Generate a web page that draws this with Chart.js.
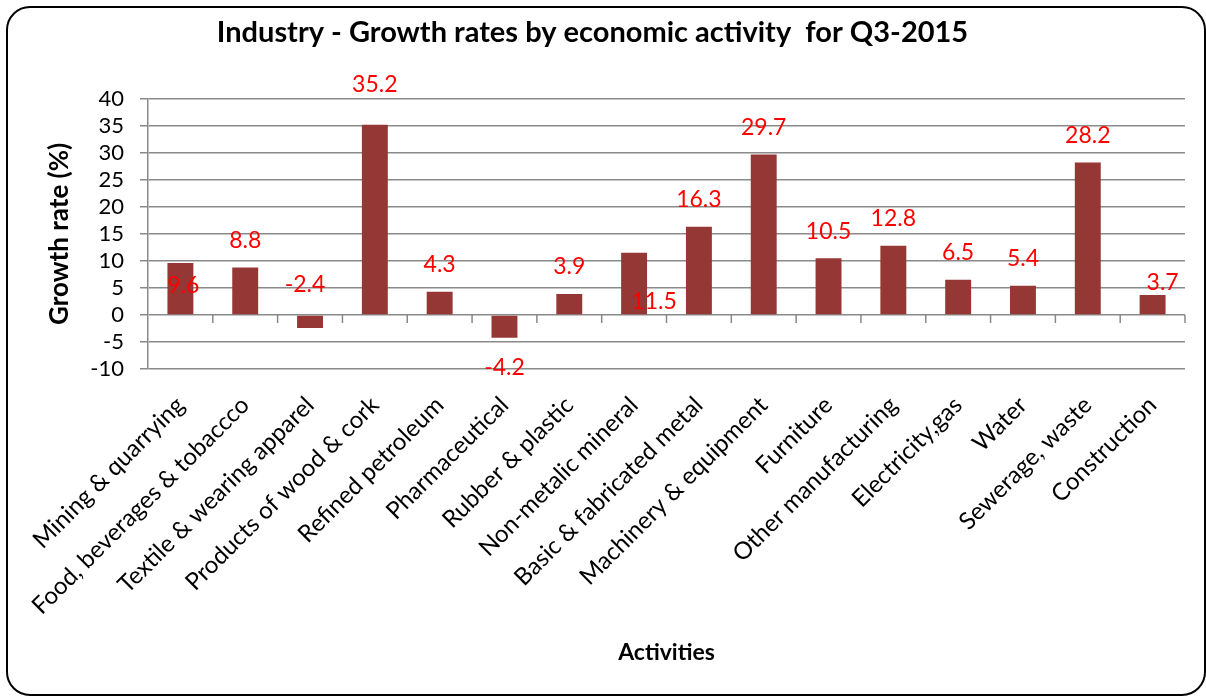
<!DOCTYPE html>
<html>
<head>
<meta charset="utf-8">
<title>Industry - Growth rates by economic activity for Q3-2015</title>
<script src="https://cdn.jsdelivr.net/npm/chart.js@4.4.0/dist/chart.umd.min.js"></script>
<style>
  html, body { margin: 0; padding: 0; background: #fff; overflow: hidden; }
  #wrap { position: relative; width: 1206px; height: 696px; }
  #frame {
    position: absolute; left: 6px; top: 6px; width: 1200px; height: 690px;
    border: 2px solid #000; border-radius: 24px; box-sizing: border-box;
    pointer-events: none;
  }
</style>
</head>
<body>
<div id="wrap">
  <canvas id="barchart" width="1206" height="696"></canvas>
  <div id="frame"></div>
</div>
<script>
// data
const activities = [
  'Mining & quarrying', 'Food, beverages & tobaccco', 'Textile & wearing apparel',
  'Products of wood & cork', 'Refined petroleum', 'Pharmaceutical', 'Rubber & plastic',
  'Non-metalic mineral', 'Basic & fabricated metal', 'Machinery & equipment',
  'Furniture', 'Other manufacturing', 'Electricity,gas', 'Water', 'Sewerage, waste',
  'Construction'
];
const growthRates = [9.6, 8.8, -2.4, 35.2, 4.3, -4.2, 3.9, 11.5, 16.3, 29.7, 10.5, 12.8, 6.5, 5.4, 28.2, 3.7];
const yMin = -10;
const yMax = 40;
const yStep = 5;

const FONT = 'Lato, "Open Sans", sans-serif';

// little tick marks hanging under the zero line
const zeroTicks = {
  id: 'zeroTicks',
  afterDatasetsDraw(chart) {
    const x = chart.scales.x, y = chart.scales.y;
    const c = chart.ctx;
    const y0 = y.getPixelForValue(0);
    const step = x.width / activities.length;
    c.save();
    c.strokeStyle = '#888';
    c.lineWidth = 1.5;
    for (let i = 1; i <= activities.length; i++) {
      const px = x.left + i * step;
      c.beginPath();
      c.moveTo(px, y0);
      c.lineTo(px, y0 + 8);
      c.stroke();
    }
    c.restore();
  }
};

// red value labels, with the hand-moved ones from the original
const valueLabels = {
  id: 'valueLabels',
  afterDatasetsDraw(chart, args, opts) {
    const c = chart.ctx;
    const meta = chart.getDatasetMeta(0);
    c.save();
    c.fillStyle = opts.color;
    c.font = opts.size + 'px ' + FONT;
    c.textAlign = 'center';
    c.textBaseline = 'middle';
    meta.data.forEach((bar, i) => {
      const v = growthRates[i];
      let px = bar.x;
      let py = v >= 0 ? bar.y - 27 : bar.y + 30;
      const s = opts.shift[i];
      if (s) { px += s[0]; py += s[1]; }
      c.fillText(v.toFixed(1), px, py);
    });
    c.restore();
  }
};

const ctx = document.getElementById('barchart');

new Chart(ctx, {
  type: 'bar',
  data: {
    labels: activities,
    datasets: [{
      label: 'Growth rate (%)',
      data: growthRates,
      backgroundColor: '#953735',
      borderWidth: 0,
      barPercentage: 0.4,
      categoryPercentage: 1.0
    }]
  },
  options: {
    responsive: false,
    animation: false,
    layout: { padding: { left: 0, right: 21, top: 0, bottom: 0 } },
    plugins: {
      legend: { display: false },
      tooltip: { enabled: false },
      title: {
        display: true,
        text: 'Industry - Growth rates by economic activity  for Q3-2015',
        color: '#000',
        font: { family: FONT, size: 29, weight: 'bold', lineHeight: 1.2 },
        padding: { top: 15, bottom: 49 }
      },
      valueLabels: {
        color: '#ff0000',
        size: 23,
        shift: { 0: [3, 49], 2: [-5, -73], 3: [0, -13], 7: [20, 76], 15: [10, 15] }
      }
    },
    scales: {
      x: {
        grid: { display: false, drawTicks: false },
        border: { display: false },
        ticks: {
          autoSkip: false,
          minRotation: 45,
          maxRotation: 45,
          padding: 22,
          color: '#000',
          font: { family: FONT, size: 24 }
        },
        title: {
          display: true,
          text: 'Activities',
          color: '#000',
          font: { family: FONT, size: 23, weight: 'bold', lineHeight: 1.2 },
          padding: { top: 0, bottom: 30 }
        },
        afterFit(scale) { scale.height = 327; }
      },
      y: {
        min: yMin,
        max: yMax,
        ticks: {
          stepSize: yStep,
          autoSkip: false,
          padding: 16,
          color: '#000',
          font: { family: FONT, size: 22 }
        },
        grid: { color: '#8a8a8a', lineWidth: 1.5, tickLength: 8, drawTicks: true },
        border: { display: true, color: '#8a8a8a', width: 1.5 },
        title: {
          display: true,
          text: 'Growth rate (%)',
          color: '#000',
          font: { family: FONT, size: 26, weight: 'bold', lineHeight: 1.2 },
          padding: { top: 44, bottom: 0 }
        },
        afterFit(scale) { scale.width = 148; }
      }
    }
  },
  plugins: [zeroTicks, valueLabels]
});
</script>
</body>
</html>
